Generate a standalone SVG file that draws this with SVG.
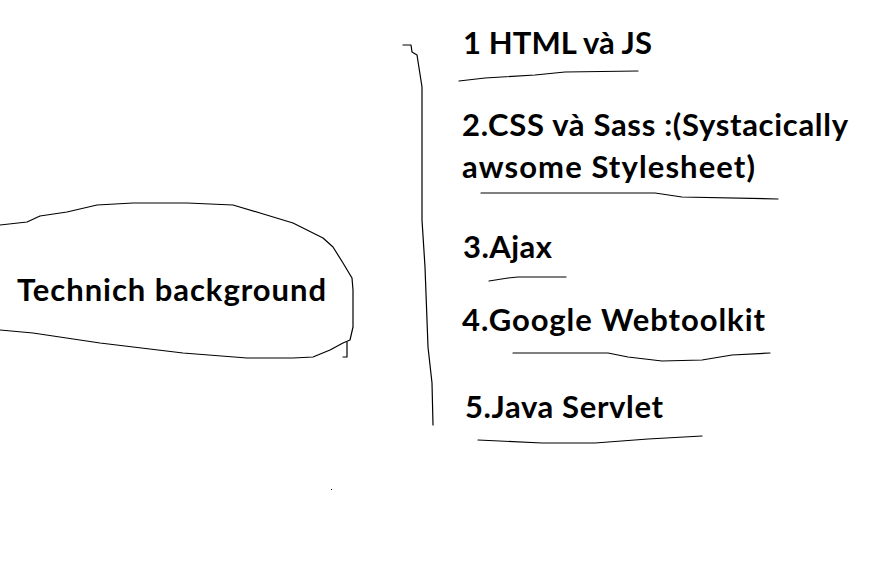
<svg xmlns="http://www.w3.org/2000/svg" width="896" height="564" viewBox="0 0 896 564">
<style>
.t{font-family:Lato,"Open Sans","Liberation Sans",sans-serif;font-weight:bold;font-size:31px;fill:#000}
.s{fill:none;stroke:#000;stroke-width:1.2;stroke-linejoin:round;stroke-linecap:round}
</style>
<rect width="896" height="564" fill="#fff"/>
<g id="connectors">
<path class="s" d="M403,45 L411,45 L412,52 L417,55 L422,87 L422,220 L425,267 L428,347 L432,383 L433,425"/>
<path class="s" d="M459,81 L485,78 L535,75 L565,72 L638,71"/>
<path class="s" d="M481,193 L655,193 L682,197 L778,199"/>
<path class="s" d="M489,281 L508,278 L518,277 L566,277"/>
<path class="s" d="M513,353 L608,353 L628,357 L662,361 L702,360 L732,355 L770,353"/>
<path class="s" d="M478,440 L542,443 L595,443 L648,439 L702,436"/>
<rect x="331" y="489" width="1" height="1" fill="#000"/>
</g>
<g id="technich">
<path class="s" d="M0,225 L27,222 L40,216 L67,212 L97,205 L133,203 L187,203 L233,205 L260,213 L293,223 L323,238 L333,247 L343,263 L352,278 L353,290 L353,327 L350,340 L343,343 L330,350 L313,357 L293,358 L247,358 L183,353 L100,343 L33,333 L0,330"/>
<path class="s" d="M347,342 L347,357 L343,357"/>
<text class="t" x="17" y="301" textLength="309" lengthAdjust="spacing">Technich background</text>
</g>
<g id="item1"><text class="t" x="463" y="54" textLength="189" lengthAdjust="spacing">1 HTML và JS</text></g>
<g id="item2"><text class="t" x="462" y="136" textLength="386" lengthAdjust="spacing">2.CSS và Sass :(Systacically</text><text class="t" x="462" y="178" textLength="293" lengthAdjust="spacing">awsome Stylesheet)</text></g>
<g id="item3"><text class="t" x="463" y="258" textLength="89" lengthAdjust="spacing">3.Ajax</text></g>
<g id="item4"><text class="t" x="462" y="331" textLength="303" lengthAdjust="spacing">4.Google Webtoolkit</text></g>
<g id="item5"><text class="t" x="465" y="418" textLength="198" lengthAdjust="spacing">5.Java Servlet</text></g>
</svg>
